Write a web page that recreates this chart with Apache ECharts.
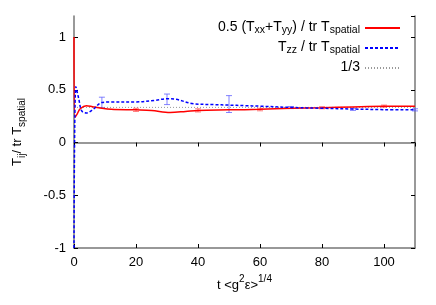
<!DOCTYPE html>
<html>
<head>
<meta charset="utf-8">
<script src="https://cdn.jsdelivr.net/npm/echarts@6/dist/echarts.min.js"></script>
<style>html,body{margin:0;padding:0;background:#fff}#c{width:436px;height:305px}</style>
</head>
<body>
<div id="c"></div>
<script>
// Series: 0.5 (Txx+Tyy) / tr T_spatial  (t, value)
var redT = [0, 0.3, 1, 2, 4, 6, 8, 12, 20, 25, 31, 36, 40, 50, 60, 70, 80, 90, 100, 110];
var redV = [1.0, 0.24, 0.27, 0.32, 0.35, 0.34, 0.33, 0.315, 0.31, 0.305, 0.285, 0.295, 0.305, 0.31, 0.315, 0.325, 0.33, 0.338, 0.343, 0.345];
// Series: Tzz / tr T_spatial
var blueT = [0, 0.6, 1.5, 2.5, 4, 6, 9, 12, 20, 26, 30, 33, 38, 45, 50, 55, 60, 70, 80, 90, 100, 110];
var blueV = [-1.0, 0.53, 0.42, 0.3, 0.28, 0.31, 0.38, 0.385, 0.385, 0.4, 0.415, 0.41, 0.37, 0.36, 0.355, 0.35, 0.345, 0.333, 0.325, 0.318, 0.312, 0.31];
// Error bars
var redErrT = [20, 40, 60, 80, 100];
var redErrV = [0.31, 0.305, 0.313, 0.33, 0.345];
var redErrE = [0.015, 0.015, 0.012, 0.01, 0.01];
var blueErrT = [9, 30, 50, 70, 90, 110];
var blueErrV = [0.38, 0.41, 0.365, 0.332, 0.315, 0.31];
var blueErrE = [0.05, 0.05, 0.08, 0.01, 0.01, 0.01];
// 1/3 reference
var thirdT = [0, 110];
var thirdV = [1/3, 1/3];
var xTicks = [0, 20, 40, 60, 80, 100];
var yTicks = [-1, -0.5, 0, 0.5, 1];

function zip(a, b) { return a.map(function (v, i) { return [v, b[i]]; }); }
function zip3(a, b, c) { return a.map(function (v, i) { return [v, b[i], c[i]]; }); }

var FONT = 'Liberation Sans';
var names = ['0.5 (Txx+Tyy) / tr Tspatial', 'Tzz / tr Tspatial', '1/3'];
var legendFmt = {};
legendFmt[names[0]] = '{m|0.5 (T}{s|xx}{m|+T}{s|yy}{m|) / tr T}{s|spatial}';
legendFmt[names[1]] = '{m|T}{s|zz}{m| / tr T}{s|spatial}';
legendFmt[names[2]] = '{m|1/3}';

function errItem(color) {
  return function (params, api) {
    var x = api.value(0), v = api.value(1), e = api.value(2);
    var p1 = api.coord([x, v - e]), p2 = api.coord([x, v + e]);
    var w = 3;
    var st = { stroke: color, lineWidth: 1 };
    return { type: 'group', children: [
      { type: 'line', shape: { x1: p1[0], y1: p1[1], x2: p2[0], y2: p2[1] }, style: st },
      { type: 'line', shape: { x1: p1[0] - w, y1: p1[1], x2: p1[0] + w, y2: p1[1] }, style: st },
      { type: 'line', shape: { x1: p2[0] - w, y1: p2[1], x2: p2[0] + w, y2: p2[1] }, style: st }
    ]};
  };
}

var axisColor = '#777';
var chart = echarts.init(document.getElementById('c'), null, { renderer: 'canvas' });
chart.setOption({
  animation: false,
  backgroundColor: '#fff',
  textStyle: { fontFamily: FONT },
  grid: { left: 74, right: 21, top: 16, bottom: 57, show: false },
  legend: {
    data: names,
    orient: 'vertical',
    align: 'right',
    right: 30,
    top: 15,
    itemWidth: 35,
    itemHeight: 10,
    itemGap: 4,
    itemStyle: { opacity: 0 },
    formatter: function (n) { return legendFmt[n]; },
    textStyle: {
      fontFamily: FONT, color: '#000',
      rich: {
        m: { fontSize: 14, fontFamily: FONT, color: '#000', lineHeight: 16, verticalAlign: 'top' },
        s: { fontSize: 10.5, fontFamily: FONT, color: '#000', lineHeight: 16, verticalAlign: 'bottom' }
      }
    }
  },
  xAxis: [{
    type: 'value', min: 0, max: 110, interval: 20,
    name: '{m|t <g}{p|2}{m|ε>}{p|1/4}',
    nameLocation: 'middle', nameGap: 24,
    nameTextStyle: {
      rich: {
        m: { fontSize: 13, fontFamily: FONT, color: '#000', lineHeight: 18, verticalAlign: 'bottom' },
        p: { fontSize: 10, fontFamily: FONT, color: '#000', lineHeight: 18, verticalAlign: 'top' }
      }
    },
    axisLine: { show: true, onZero: false, lineStyle: { color: axisColor, width: 1.5 } },
    axisTick: { show: true, inside: true, length: 4, lineStyle: { color: '#000' } },
    axisLabel: { color: '#000', fontSize: 13, fontFamily: FONT, margin: 8, showMaxLabel: false,
      formatter: function (v) { return xTicks.indexOf(v) >= 0 ? String(v) : ''; } },
    splitLine: { show: false }
  }, {
    type: 'value', position: 'top', min: 0, max: 110, interval: 20,
    axisLine: { show: true, lineStyle: { color: axisColor, width: 1.5 } },
    axisTick: { show: true, inside: true, length: 4, lineStyle: { color: '#000' } },
    axisLabel: { show: false }, splitLine: { show: false }
  }],
  yAxis: [{
    type: 'value', min: -1, max: 1.2, interval: 0.5,
    name: '{m|T}{s|ij}{m|/ tr T}{s|spatial}',
    nameLocation: 'middle', nameRotate: 90, nameGap: 47,
    nameTextStyle: {
      rich: {
        m: { fontSize: 13, fontFamily: FONT, color: '#000', lineHeight: 16, verticalAlign: 'top' },
        s: { fontSize: 10, fontFamily: FONT, color: '#000', lineHeight: 16, verticalAlign: 'bottom' }
      }
    },
    axisLine: { show: true, onZero: false, lineStyle: { color: axisColor, width: 1.5 } },
    axisTick: { show: true, inside: true, length: 4, lineStyle: { color: '#000' } },
    axisLabel: { color: '#000', fontSize: 13, fontFamily: FONT, margin: 8, showMaxLabel: false,
      formatter: function (v) { return yTicks.indexOf(v) >= 0 ? String(v) : ''; } },
    splitLine: { show: false }
  }, {
    type: 'value', position: 'right', min: -1, max: 1.2, interval: 0.5,
    axisLine: { show: true, onZero: false, lineStyle: { color: axisColor, width: 1.5 } },
    axisTick: { show: true, inside: true, length: 4, lineStyle: { color: '#000' } },
    axisLabel: { show: false }, splitLine: { show: false }
  }],
  series: [
    {
      name: names[2], type: 'line', data: zip(thirdT, thirdV), symbol: 'none',
      lineStyle: { color: '#999', width: 1, type: [1, 2] }, itemStyle: { color: '#999' }, z: 1
    },
    {
      name: names[0], type: 'line', data: zip(redT, redV), symbol: 'none', smooth: 0.35,
      lineStyle: { color: '#ff0000', width: 1.5 }, itemStyle: { color: '#ff0000' }, z: 3
    },
    {
      name: names[1], type: 'line', data: zip(blueT, blueV), symbol: 'none', smooth: 0.35,
      lineStyle: { color: '#0000ff', width: 1.5, type: [3, 2] }, itemStyle: { color: '#0000ff' }, z: 4
    },
    {
      name: 'redErr', type: 'custom', data: zip3(redErrT, redErrV, redErrE),
      renderItem: errItem('rgba(255,80,80,0.75)'), z: 2, encode: { x: 0, y: [1] }
    },
    {
      name: 'blueErr', type: 'custom', data: zip3(blueErrT, blueErrV, blueErrE),
      renderItem: errItem('rgba(90,90,255,0.75)'), z: 2, encode: { x: 0, y: [1] }
    }
  ]
});
</script>
</body>
</html>
